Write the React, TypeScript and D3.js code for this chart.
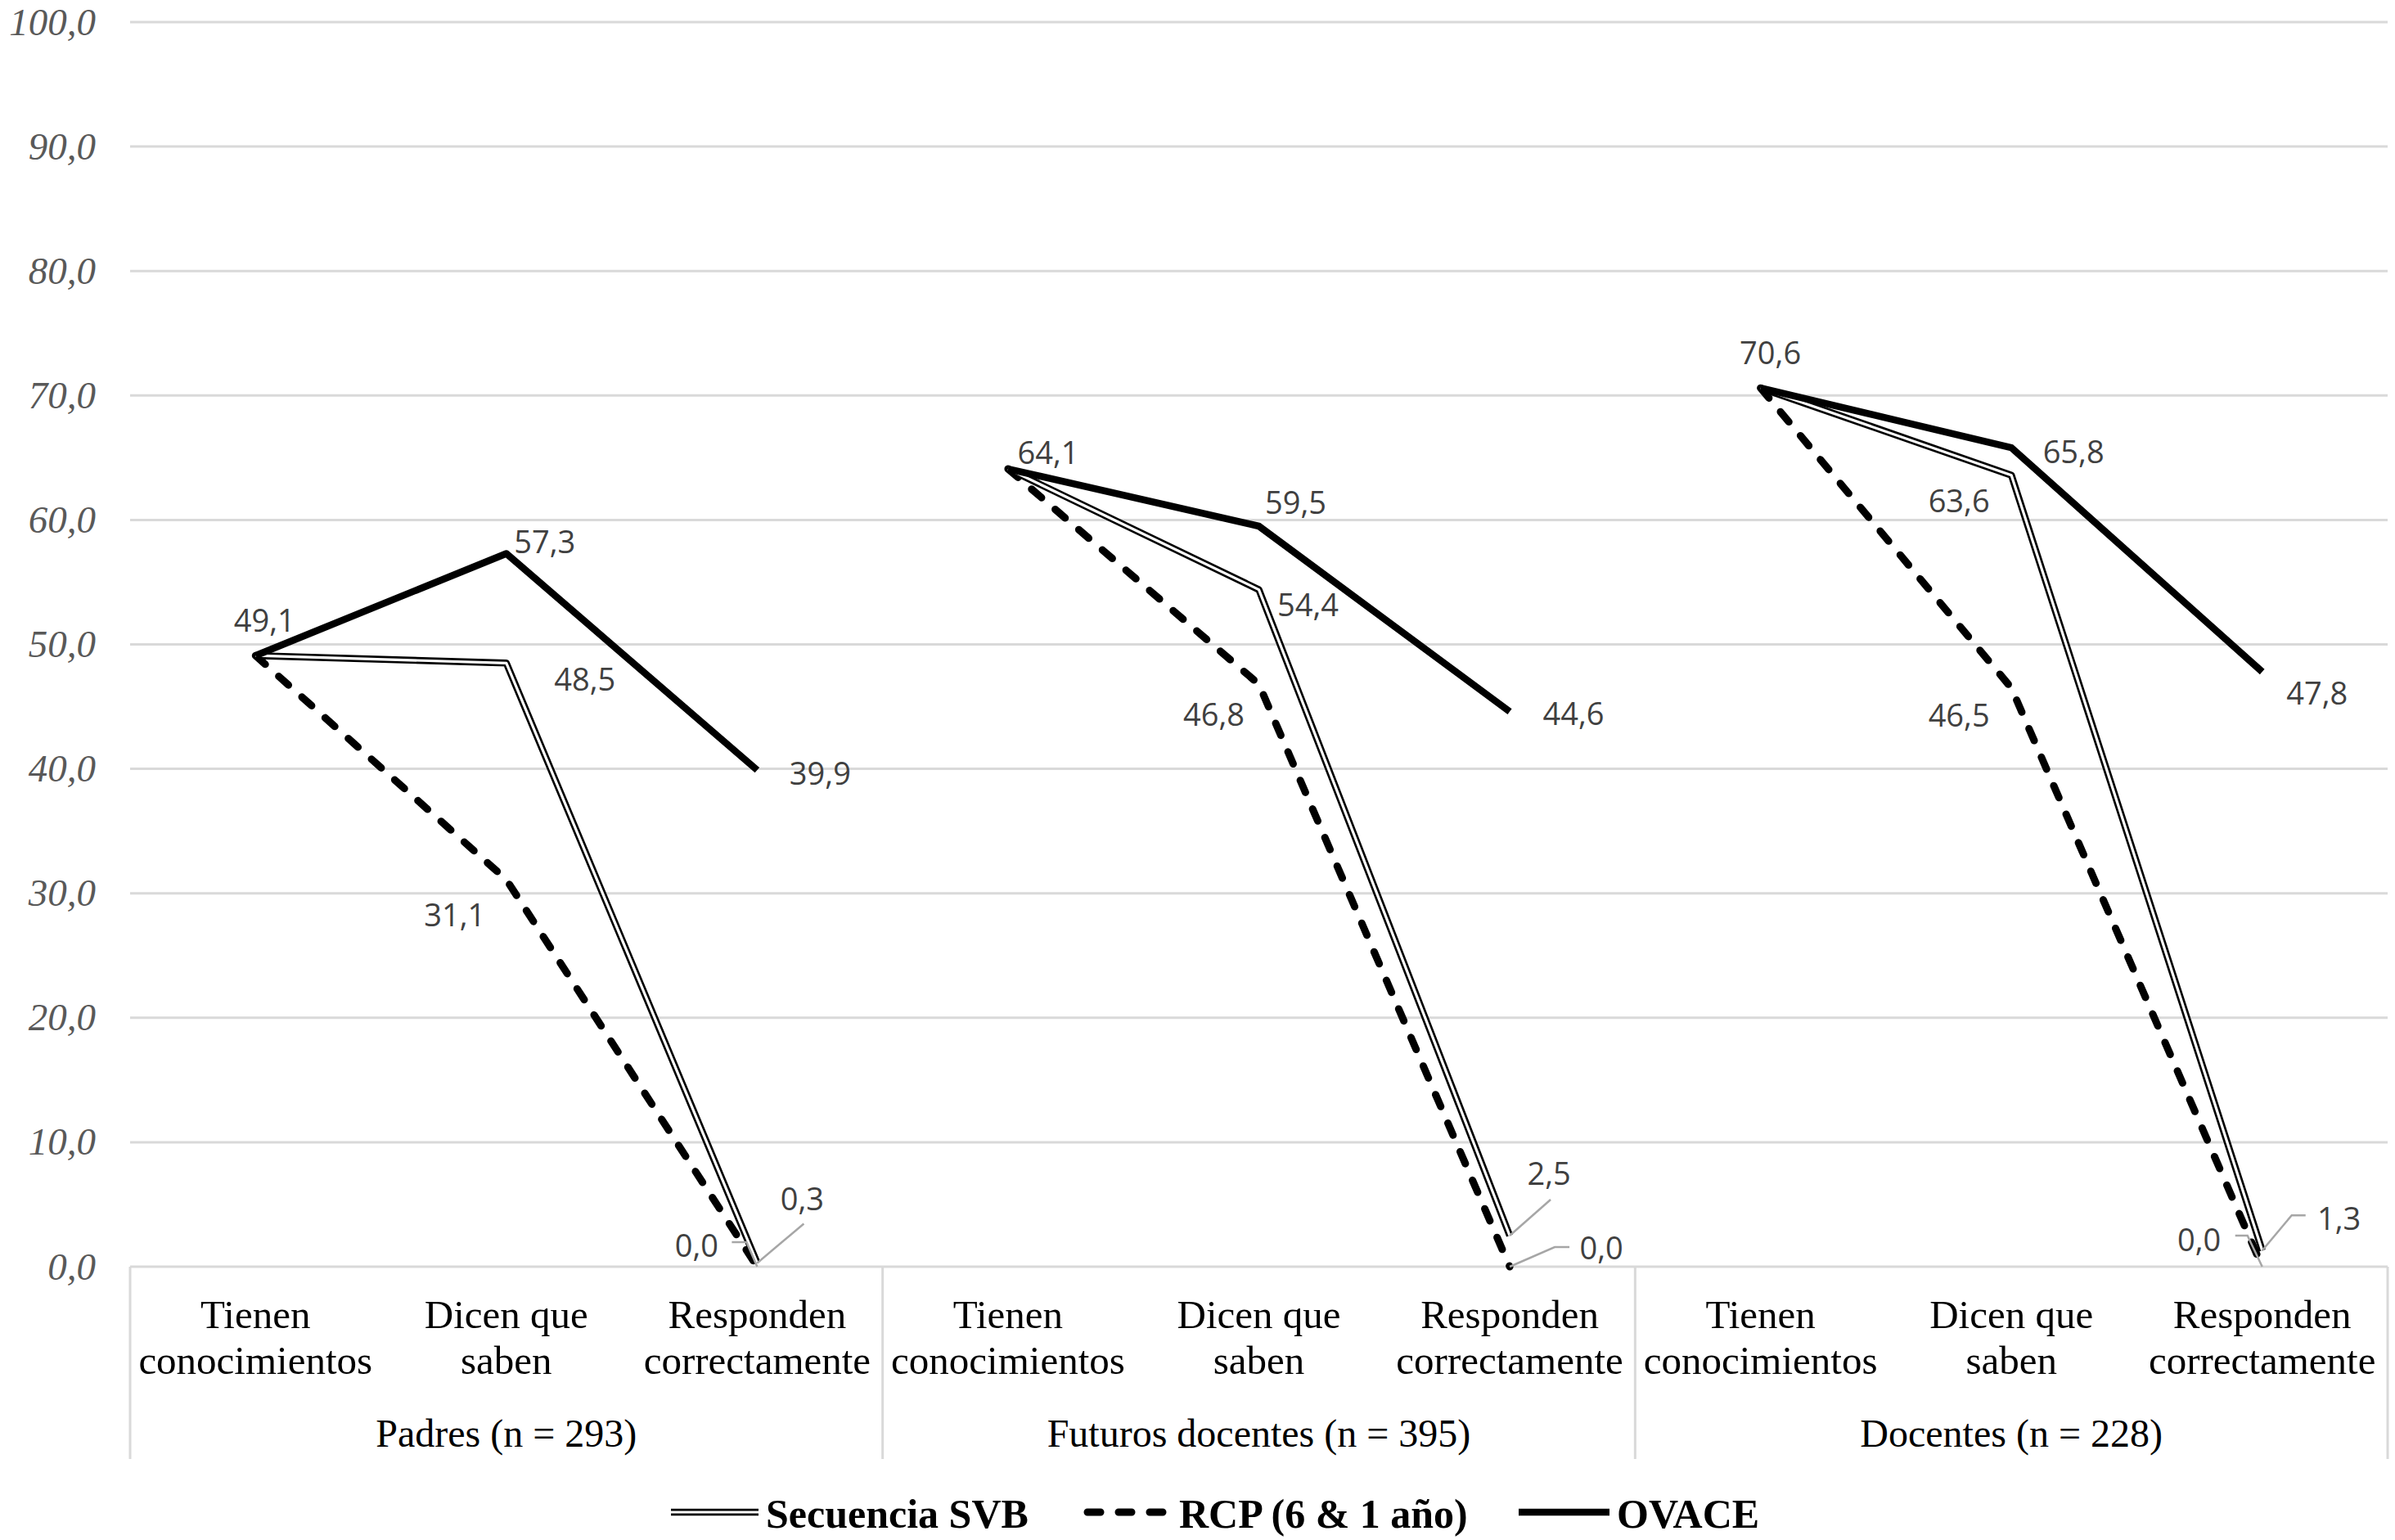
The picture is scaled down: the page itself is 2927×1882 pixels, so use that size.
import * as d3 from "d3";

// Groups, categories and values
const groups = ["Padres (n = 293)", "Futuros docentes (n = 395)", "Docentes (n = 228)"];
const categories = [
  ["Tienen", "conocimientos"],
  ["Dicen que", "saben"],
  ["Responden", "correctamente"],
];
const svb = [
  [49.1, 48.5, 0.3],
  [64.1, 54.4, 2.5],
  [70.6, 63.6, 1.3],
];
const rcp = [
  [49.1, 31.1, 0.0],
  [64.1, 46.8, 0.0],
  [70.6, 46.5, 0.0],
];
const ovace = [
  [49.1, 57.3, 39.9],
  [64.1, 59.5, 44.6],
  [70.6, 65.8, 47.8],
];
const yTicks = [0, 10, 20, 30, 40, 50, 60, 70, 80, 90, 100];
const seriesNames = ["Secuencia SVB", "RCP (6 & 1 año)", "OVACE"];

// label placement (offset from point) and optional leader line bends
type Lab = { dx: number; dy: number; leader?: number[][] } | null;
const svbLabels: Lab[][] = [
  [null, { dx: 96, dy: 20 }, { dx: 55, dy: -78, leader: [[57, -48]] }],
  [null, { dx: 60, dy: 19 }, { dx: 48, dy: -76, leader: [[50, -44]] }],
  [null, { dx: -64, dy: 32 }, { dx: 94, dy: -39, leader: [[36, -43], [53, -43]] }],
];
const rcpLabels: Lab[][] = [
  [null, { dx: -63, dy: 43 }, { dx: -74, dy: -26, leader: [[-13, -30], [-31, -30]] }],
  [null, { dx: -55, dy: 37 }, { dx: 112, dy: -23, leader: [[55, -24], [73, -24]] }],
  [null, { dx: -64, dy: 34 }, { dx: -77, dy: -33, leader: [[-18, -38], [-33, -38]] }],
];
const ovaceLabels: Lab[][] = [
  [{ dx: 11, dy: -43 }, { dx: 47, dy: -14 }, { dx: 77, dy: 4 }],
  [{ dx: 49, dy: -20 }, { dx: 45, dy: -29 }, { dx: 78, dy: 3 }],
  [{ dx: 12, dy: -43 }, { dx: 76, dy: 5 }, { dx: 67, dy: 26 }],
];

const W = 2927;
const H = 1882;
const left = 159;
const right = 2918;
const top = 27;
const bottom = 1548;
const boxBottom = 1783;

const serif = "'Liberation Serif', 'Times New Roman', serif";
const sans = "'Open Sans', 'Liberation Sans', sans-serif";
const grid = "#d9d9d9";

const fmt = (v: number) => v.toFixed(1).replace(".", ",");

export default function App() {
  const x = d3
    .scaleBand<number>()
    .domain(d3.range(groups.length * categories.length))
    .range([left, right])
    .paddingInner(0)
    .paddingOuter(0);
  const y = d3.scaleLinear().domain([0, 100]).range([bottom, top]);
  const cx = (g: number, c: number) => x(g * 3 + c)! + x.bandwidth() / 2;

  const line = (g: number) =>
    d3
      .line<number>()
      .x((_, i) => cx(g, i))
      .y((d) => y(d));

  const series = [
    { name: "rcp", data: rcp, labels: rcpLabels },
    { name: "svb", data: svb, labels: svbLabels },
    { name: "ovace", data: ovace, labels: ovaceLabels },
  ];

  const drawSeries = (name: string, d: string, key: string) => {
    if (name === "svb")
      return (
        <g key={key}>
          <path d={d} fill="none" stroke="#000" strokeWidth={8.5} strokeLinejoin="round" />
          <path d={d} fill="none" stroke="#fff" strokeWidth={3.2} strokeLinejoin="round" />
        </g>
      );
    if (name === "rcp")
      return (
        <path key={key} d={d} fill="none" stroke="#000" strokeWidth={9}
          strokeDasharray="16 22" strokeLinecap="round" strokeLinejoin="round" />
      );
    return <path key={key} d={d} fill="none" stroke="#000" strokeWidth={8.5} strokeLinejoin="round" />;
  };

  const sepXs = d3.range(groups.length + 1).map((g) => (g < groups.length ? x(g * 3)! : right));

  const legend = [
    { name: "svb", x1: 820, x2: 927, tx: 936, text: seriesNames[0] },
    { name: "rcp", x1: 1329, x2: 1423, tx: 1441, text: seriesNames[1] },
    { name: "ovace", x1: 1856, x2: 1967, tx: 1976, text: seriesNames[2] },
  ];

  return (
    <svg width={W} height={H} style={{ position: "absolute", left: 0, top: 0, background: "#fff" }}>
      {/* grid */}
      {yTicks.map((t) => (
        <g key={t}>
          <line x1={left} x2={right} y1={y(t)} y2={y(t)} stroke={grid} strokeWidth={3} />
          <text x={117} y={y(t)} dy="0.33em" textAnchor="end" fontFamily={serif}
            fontStyle="italic" fontSize={47} fill="#595959">
            {fmt(t)}
          </text>
        </g>
      ))}

      {/* category box */}
      {sepXs.map((sx, i) => (
        <line key={i} x1={sx} x2={sx} y1={bottom} y2={boxBottom} stroke={grid} strokeWidth={3} />
      ))}
      {groups.map((g, gi) => (
        <g key={g}>
          {categories.map((c, ci) => (
            <text key={ci} x={cx(gi, ci)} textAnchor="middle" fontFamily={serif} fontSize={49} fill="#000">
              <tspan x={cx(gi, ci)} y={1623}>{c[0]}</tspan>
              <tspan x={cx(gi, ci)} y={1679}>{c[1]}</tspan>
            </text>
          ))}
          <text x={cx(gi, 1)} y={1768} textAnchor="middle" fontFamily={serif} fontSize={48} fill="#000">
            {g}
          </text>
        </g>
      ))}

      {/* lines */}
      {series.map((s) =>
        s.data.map((vals, gi) => drawSeries(s.name, line(gi)(vals) || "", s.name + gi))
      )}

      {/* data labels */}
      {series.map((s) =>
        s.data.map((vals, gi) =>
          vals.map((v, ci) => {
            const lab = s.labels[gi][ci];
            if (!lab) return null;
            const px = cx(gi, ci);
            const py = y(v);
            const pts = lab.leader
              ? [[px, py], ...lab.leader.map((p) => [px + p[0], py + p[1]])]
              : null;
            return (
              <g key={s.name + gi + "-" + ci}>
                {pts && (
                  <polyline points={pts.map((p) => p.join(",")).join(" ")} fill="none"
                    stroke="#a6a6a6" strokeWidth={2.5} />
                )}
                <text x={px + lab.dx} y={py + lab.dy} dy="0.36em" textAnchor="middle"
                  fontFamily={sans} fontSize={38} fill="#404040">
                  {fmt(v)}
                </text>
              </g>
            );
          })
        )
      )}

      {/* legend */}
      {legend.map((l) => (
        <g key={l.name}>
          {drawSeries(l.name, `M${l.x1},1848H${l.x2}`, "lg" + l.name)}
          <text x={l.tx} y={1867} fontFamily={serif} fontWeight="bold" fontSize={50} fill="#000">
            {l.text}
          </text>
        </g>
      ))}
    </svg>
  );
}
